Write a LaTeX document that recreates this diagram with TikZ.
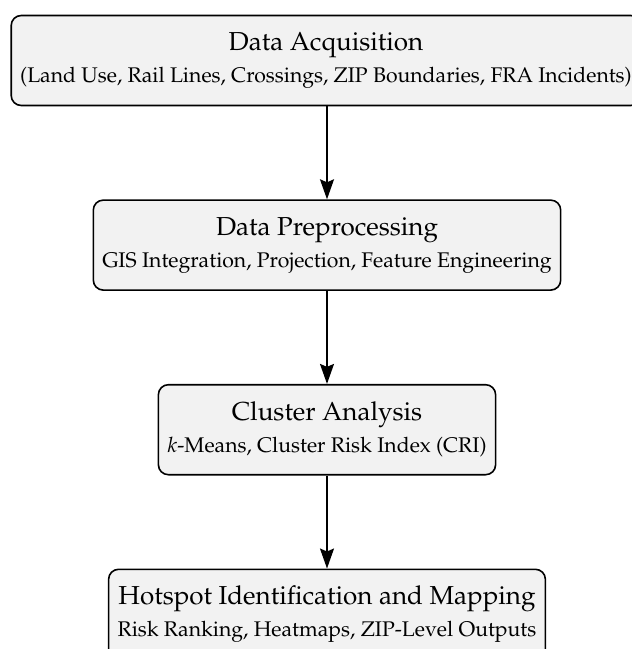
\documentclass[tikz,border=0pt]{standalone}
\usepackage[T1]{fontenc}
\usepackage{mathpazo}
\usetikzlibrary{arrows.meta, positioning}
\tikzset{>={Stealth[length=10pt,width=7pt,inset=1.5pt]}}
\newcommand{\stagetitle}[1]{{\fontsize{13}{16}\selectfont #1}}

\begin{document}
\begin{tikzpicture} [x=0.5pt,y=-0.5pt,
    stagebox/.style={draw, thick, rounded corners=5pt, fill=black!5,
      align=center, inner xsep=4.5pt, minimum height=45pt,
      font=\fontsize{10.6}{13}\selectfont},
    node distance=46.5pt]
        \useasboundingbox (0,0) rectangle (632,649);
        % pipeline stages, top to bottom
        \node [stagebox] (acq) at (326,60.5)
          {\stagetitle{Data Acquisition}\\[3pt]
           (Land Use, Rail Lines, Crossings, ZIP Boundaries, FRA Incidents)};
        \node [stagebox, below=of acq, xshift=0.5pt] (prep)
          {\stagetitle{Data Preprocessing}\\[3pt]
           GIS Integration, Projection, Feature Engineering};
        \node [stagebox, below=of prep] (clus)
          {\stagetitle{Cluster Analysis}\\[3pt]
           $k$-Means, Cluster Risk Index (CRI)};
        \node [stagebox, below=of clus] (hot)
          {\stagetitle{Hotspot Identification and Mapping}\\[3pt]
           Risk Ranking, Heatmaps, ZIP-Level Outputs};
        \draw [thick,->] (acq.south -| prep.north) -- (prep);
        \draw [thick,->] (prep) -- (clus);
        \draw [thick,->] (clus) -- (hot);
      \end{tikzpicture}
\end{document}
